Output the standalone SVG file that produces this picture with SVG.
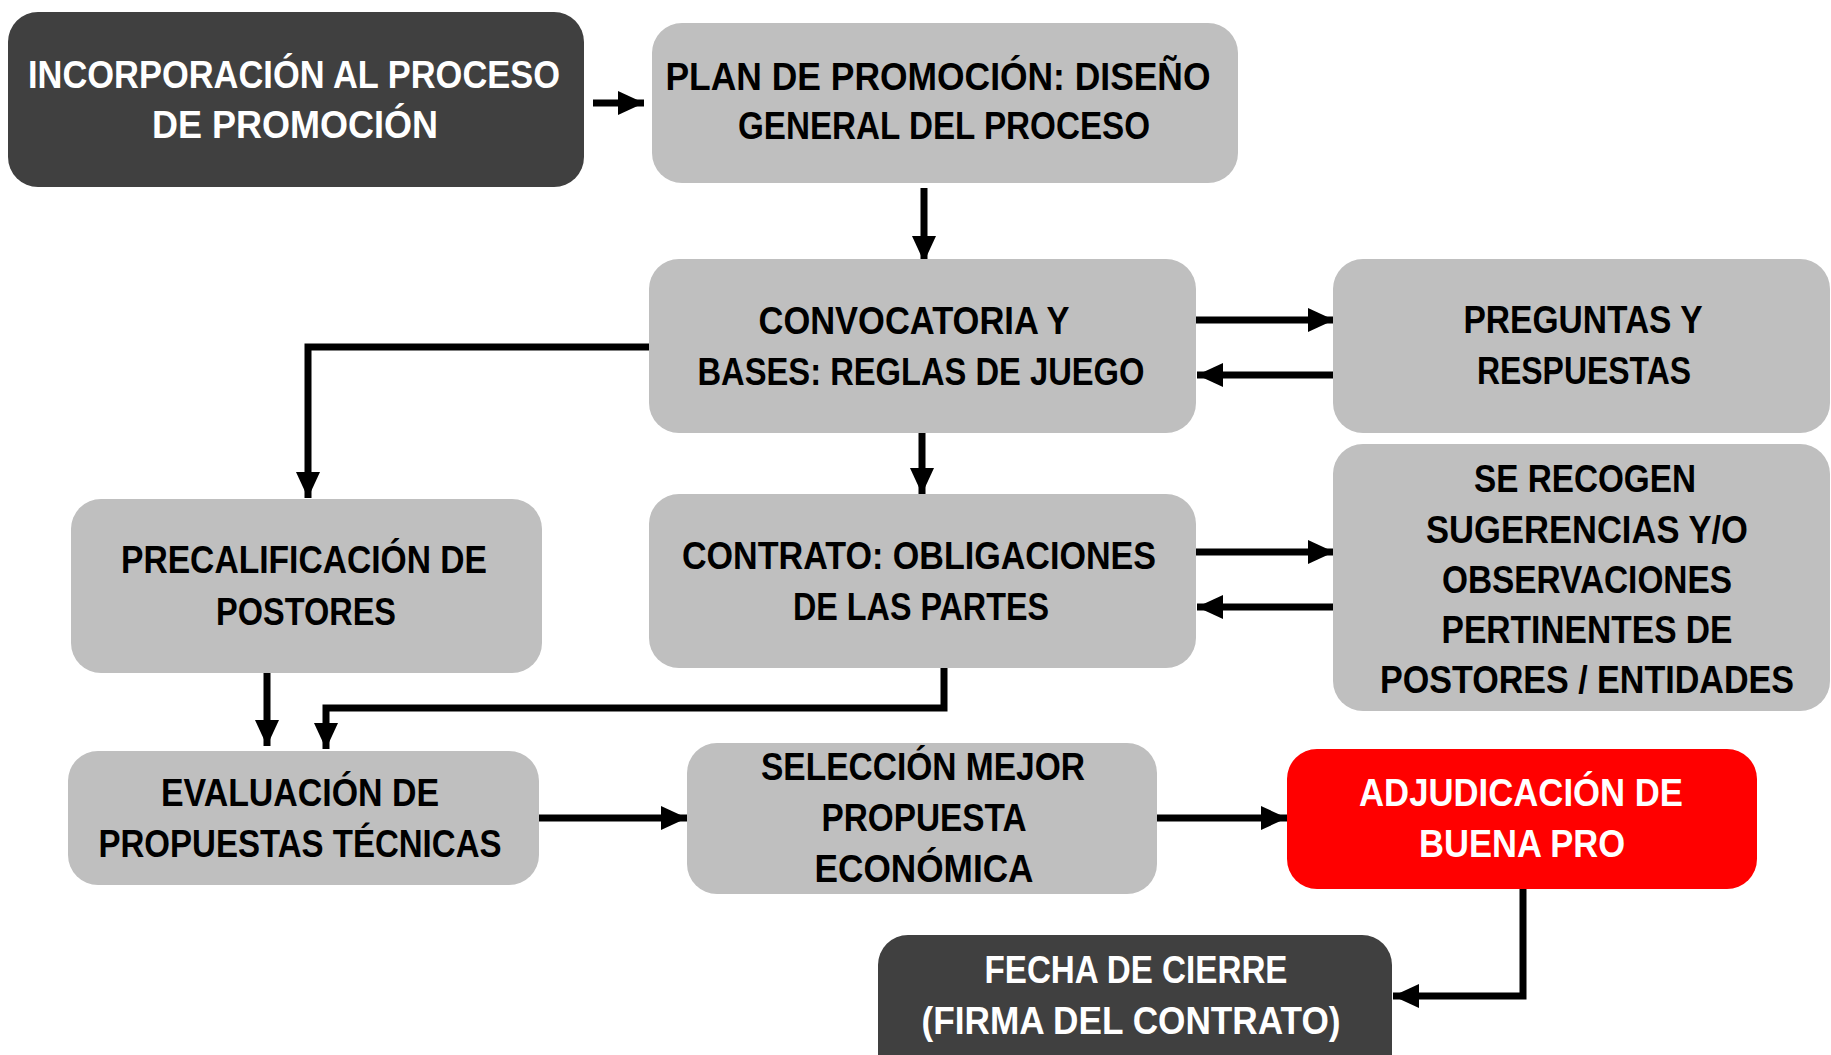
<svg xmlns="http://www.w3.org/2000/svg" width="1831" height="1055" viewBox="0 0 1831 1055">
<style>
.dark{fill:#404040}
.grey{fill:#bfbfbf}
.red{fill:#ff0000}
text{font-family:"Liberation Sans",Arial,sans-serif;font-weight:bold;font-size:39px;text-anchor:middle}
.w{fill:#ffffff}
.k{fill:#000000}
.c{fill:none;stroke:#000;stroke-width:7;stroke-linejoin:miter}
</style>
<defs>
<marker id="ah" markerUnits="userSpaceOnUse" markerWidth="26" markerHeight="24" refX="26" refY="12" orient="auto">
<path d="M0,0 L26,12 L0,24 z" fill="#000"/>
</marker>
</defs>
<rect width="1831" height="1055" fill="#ffffff"/>
<g id="connectors">
<path class="c" d="M593,103 L644,103" marker-end="url(#ah)"/>
<path class="c" d="M924,188 L924,262" marker-end="url(#ah)"/>
<path class="c" d="M649,347 L308,347 L308,498" marker-end="url(#ah)"/>
<path class="c" d="M1196,320 L1334,320" marker-end="url(#ah)"/>
<path class="c" d="M1333,375 L1197,375" marker-end="url(#ah)"/>
<path class="c" d="M922,433 L922,494" marker-end="url(#ah)"/>
<path class="c" d="M1196,552 L1334,552" marker-end="url(#ah)"/>
<path class="c" d="M1333,607 L1197,607" marker-end="url(#ah)"/>
<path class="c" d="M267,673 L267,746" marker-end="url(#ah)"/>
<path class="c" d="M944,668 L944,708 L326,708 L326,749" marker-end="url(#ah)"/>
<path class="c" d="M539,818 L687,818" marker-end="url(#ah)"/>
<path class="c" d="M1157,818 L1287,818" marker-end="url(#ah)"/>
<path class="c" d="M1523,889 L1523,996 L1393,996" marker-end="url(#ah)"/>
</g>
<g id="n1">
<rect class="dark" x="8" y="12" width="576" height="175" rx="30"/>
<text class="w" x="294" y="88" textLength="532" lengthAdjust="spacingAndGlyphs">INCORPORACIÓN AL PROCESO</text>
<text class="w" x="295" y="138" textLength="286" lengthAdjust="spacingAndGlyphs">DE PROMOCIÓN</text>
</g>
<g id="n2">
<rect class="grey" x="652" y="23" width="586" height="160" rx="30"/>
<text class="k" x="938" y="90" textLength="545" lengthAdjust="spacingAndGlyphs">PLAN DE PROMOCIÓN: DISEÑO</text>
<text class="k" x="944" y="139" textLength="412" lengthAdjust="spacingAndGlyphs">GENERAL DEL PROCESO</text>
</g>
<g id="n3">
<rect class="grey" x="649" y="259" width="547" height="174" rx="30"/>
<text class="k" x="914" y="334" textLength="311" lengthAdjust="spacingAndGlyphs">CONVOCATORIA Y</text>
<text class="k" x="921" y="385" textLength="447" lengthAdjust="spacingAndGlyphs">BASES: REGLAS DE JUEGO</text>
</g>
<g id="n4">
<rect class="grey" x="1333" y="259" width="497" height="174" rx="30"/>
<text class="k" x="1583" y="333" textLength="239" lengthAdjust="spacingAndGlyphs">PREGUNTAS Y</text>
<text class="k" x="1584" y="384" textLength="214" lengthAdjust="spacingAndGlyphs">RESPUESTAS</text>
</g>
<g id="n5">
<rect class="grey" x="1333" y="444" width="497" height="267" rx="30"/>
<text class="k" x="1585" y="492" textLength="222" lengthAdjust="spacingAndGlyphs">SE RECOGEN</text>
<text class="k" x="1587" y="543" textLength="322" lengthAdjust="spacingAndGlyphs">SUGERENCIAS Y/O</text>
<text class="k" x="1587" y="593" textLength="290" lengthAdjust="spacingAndGlyphs">OBSERVACIONES</text>
<text class="k" x="1587" y="643" textLength="291" lengthAdjust="spacingAndGlyphs">PERTINENTES DE</text>
<text class="k" x="1587" y="693" textLength="414" lengthAdjust="spacingAndGlyphs">POSTORES / ENTIDADES</text>
</g>
<g id="n6">
<rect class="grey" x="71" y="499" width="471" height="174" rx="30"/>
<text class="k" x="304" y="573" textLength="366" lengthAdjust="spacingAndGlyphs">PRECALIFICACIÓN DE</text>
<text class="k" x="306" y="625" textLength="180" lengthAdjust="spacingAndGlyphs">POSTORES</text>
</g>
<g id="n7">
<rect class="grey" x="649" y="494" width="547" height="174" rx="30"/>
<text class="k" x="919" y="569" textLength="474" lengthAdjust="spacingAndGlyphs">CONTRATO: OBLIGACIONES</text>
<text class="k" x="921" y="620" textLength="256" lengthAdjust="spacingAndGlyphs">DE LAS PARTES</text>
</g>
<g id="n8">
<rect class="grey" x="68" y="751" width="471" height="134" rx="30"/>
<text class="k" x="300" y="806" textLength="278" lengthAdjust="spacingAndGlyphs">EVALUACIÓN DE</text>
<text class="k" x="300" y="857" textLength="403" lengthAdjust="spacingAndGlyphs">PROPUESTAS TÉCNICAS</text>
</g>
<g id="n9">
<rect class="grey" x="687" y="743" width="470" height="151" rx="30"/>
<text class="k" x="923" y="780" textLength="324" lengthAdjust="spacingAndGlyphs">SELECCIÓN MEJOR</text>
<text class="k" x="924" y="831" textLength="205" lengthAdjust="spacingAndGlyphs">PROPUESTA</text>
<text class="k" x="924" y="882" textLength="219" lengthAdjust="spacingAndGlyphs">ECONÓMICA</text>
</g>
<g id="n10">
<rect class="red" x="1287" y="749" width="470" height="140" rx="30"/>
<text class="w" x="1521" y="806" textLength="324" lengthAdjust="spacingAndGlyphs">ADJUDICACIÓN DE</text>
<text class="w" x="1522" y="857" textLength="206" lengthAdjust="spacingAndGlyphs">BUENA PRO</text>
</g>
<g id="n11">
<rect class="dark" x="878" y="935" width="514" height="150" rx="30"/>
<text class="w" x="1136" y="983" textLength="303" lengthAdjust="spacingAndGlyphs">FECHA DE CIERRE</text>
<text class="w" x="1131" y="1034" textLength="419" lengthAdjust="spacingAndGlyphs">(FIRMA DEL CONTRATO)</text>
</g>
</svg>
